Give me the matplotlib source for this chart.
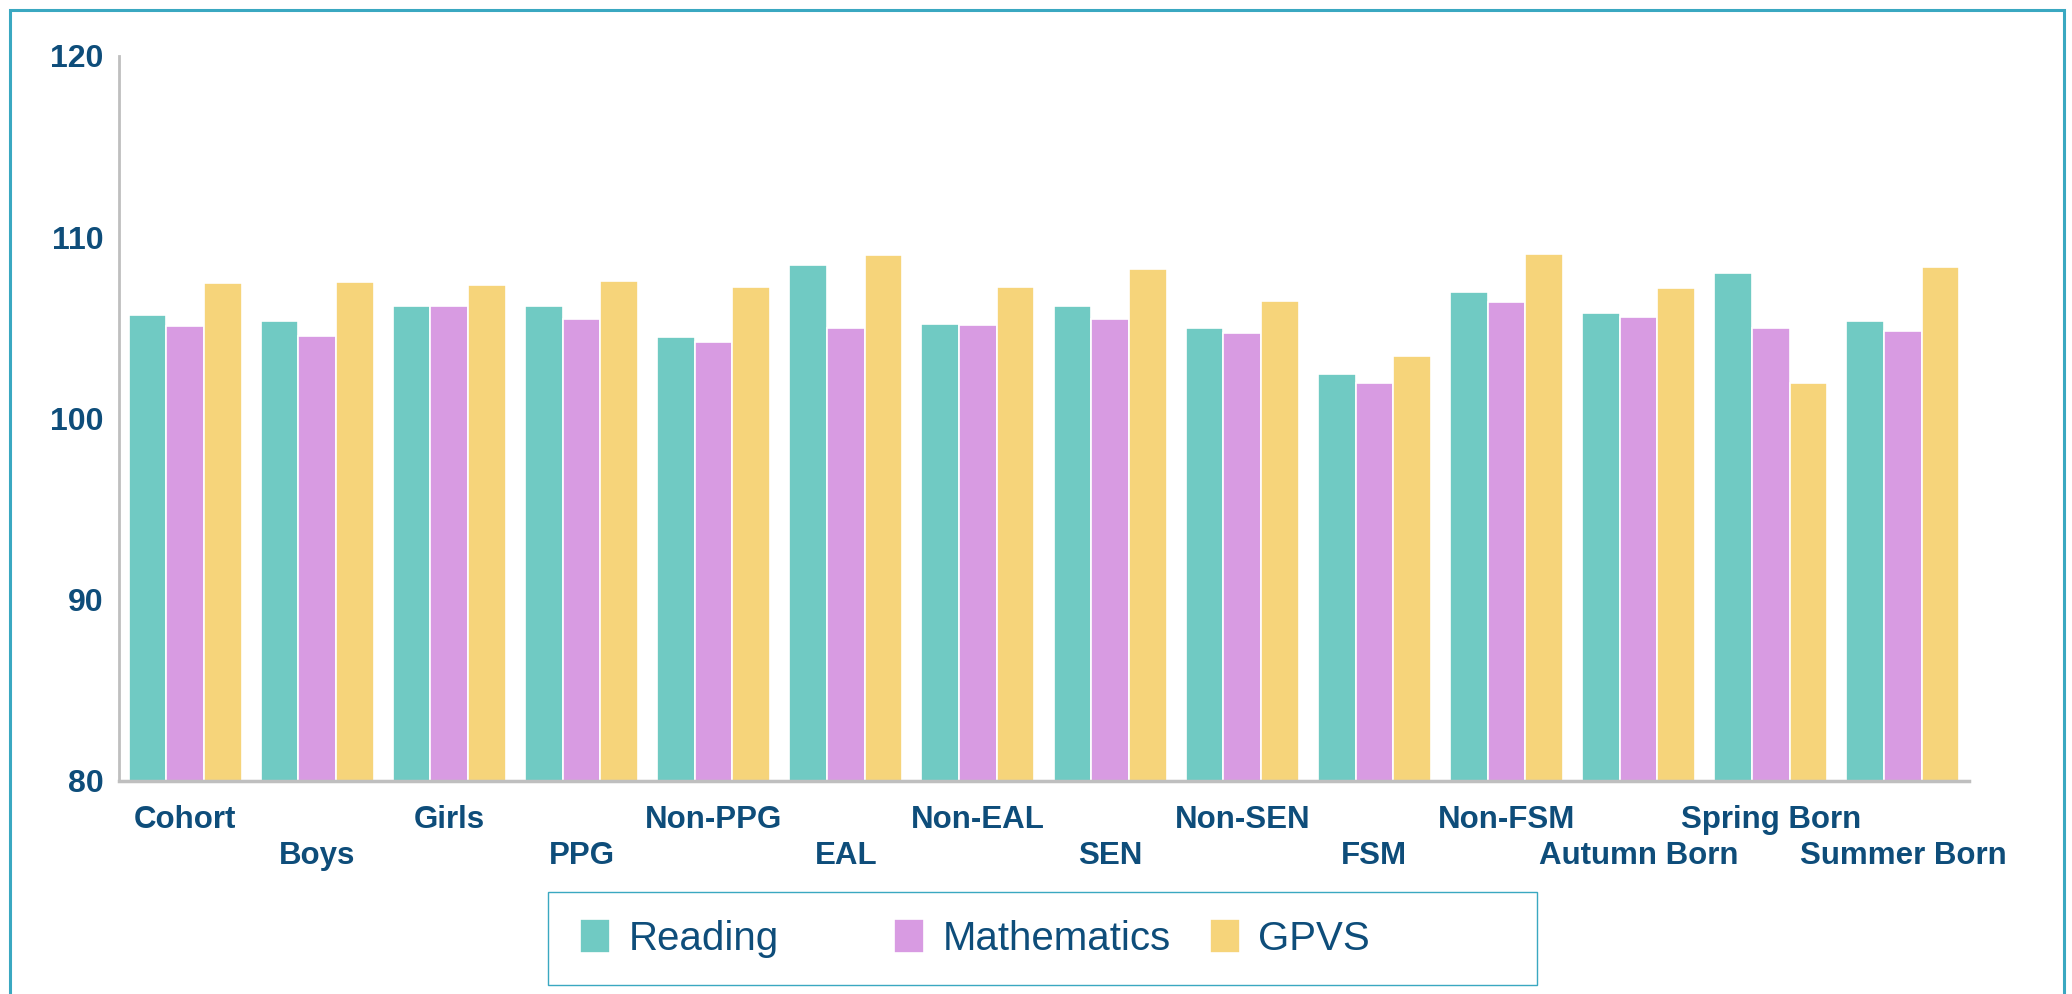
import numpy as np
import matplotlib
matplotlib.use("Agg")
import matplotlib.pyplot as plt
from matplotlib.patches import Rectangle

plt.rcParams['font.family'] = ['Liberation Sans', 'DejaVu Sans']

# data
groups = ["Cohort", "Boys", "Girls", "PPG", "Non-PPG", "EAL", "Non-EAL", "SEN",
          "Non-SEN", "FSM", "Non-FSM", "Autumn Born", "Spring Born", "Summer Born"]
reading = [105.7, 105.4, 106.2, 106.2, 104.5, 108.45, 105.2, 106.2,
           105.0, 102.45, 107.0, 105.8, 108.0, 105.4]
maths = [105.1, 104.55, 106.2, 105.5, 104.2, 105.0, 105.15, 105.5,
         104.7, 101.96, 106.4, 105.6, 105.0, 104.85]
gpvs = [107.5, 107.55, 107.35, 107.6, 107.25, 109.0, 107.25, 108.25,
        106.5, 103.45, 109.06, 107.2, 101.96, 108.35]
series_names = ["Reading", "Mathematics", "GPVS"]
yticks = [80, 90, 100, 110, 120]

colors = ["#70cac3", "#d89be2", "#f6d47a"]
txt = "#0e4d7a"
border = "#3aa8c1"
W, H = 2072, 994

fig = plt.figure(figsize=(W / 100, H / 100), dpi=100)
ax = fig.add_axes([0.0574, 0.2143, 0.8929, 0.7294])

x = np.arange(len(groups))
w = 0.285
bars = []
for i, (vals, name) in enumerate(zip([reading, maths, gpvs], series_names)):
    b = ax.bar(x + (i - 1) * w, np.array(vals) - 80, width=w, bottom=80,
               color=colors[i], edgecolor="white", linewidth=1.2, label=name)
    bars.append(b)

ax.set_xlim(-0.5, len(groups) - 0.5)
ax.set_ylim(80, 120)
ax.set_yticks(yticks)
ax.set_yticklabels([str(v) for v in yticks], fontsize=23, fontweight="bold", color=txt)
ax.tick_params(axis="y", length=0, pad=11)

ax.set_xticks(x)
ax.set_xticklabels(groups, fontsize=22.5, fontweight="bold", color=txt)
ax.tick_params(axis="x", length=0)
for i, t in enumerate(ax.xaxis.get_major_ticks()):
    t.set_pad(17 if i % 2 == 0 else 43)

for s in ["top", "right"]:
    ax.spines[s].set_visible(False)
ax.spines["left"].set_color("#bfbfbf")
ax.spines["left"].set_linewidth(2)
ax.spines["bottom"].set_color("#bfbfbf")
ax.spines["bottom"].set_linewidth(2.5)

# outer frame
fig.patches.append(Rectangle((9.5 / W, -0.2), (2064 - 9.5) / W, 1.2 - 9.5 / H,
                             transform=fig.transFigure, fill=False,
                             edgecolor=border, linewidth=2.2))

# legend: equal-pitch entries inside one box, like the original
fig.patches.append(Rectangle((548 / W, 1 - 985 / H), (1537 - 548) / W, 93 / H,
                             transform=fig.transFigure, fill=False,
                             edgecolor=border, linewidth=1.0))
leg_x = [580, 894, 1210]
for b, name, lx in zip(bars, series_names, leg_x):
    leg = fig.legend(handles=[b], labels=[name], loc="center left",
                     bbox_to_anchor=(lx / W, 1 - 938.5 / H), frameon=False,
                     prop={"size": 29}, handlelength=0.75, handleheight=0.92,
                     handletextpad=0.45, borderpad=0, borderaxespad=0)
    for t in leg.get_texts():
        t.set_color(txt)

fig.savefig("out.png", dpi=100)
